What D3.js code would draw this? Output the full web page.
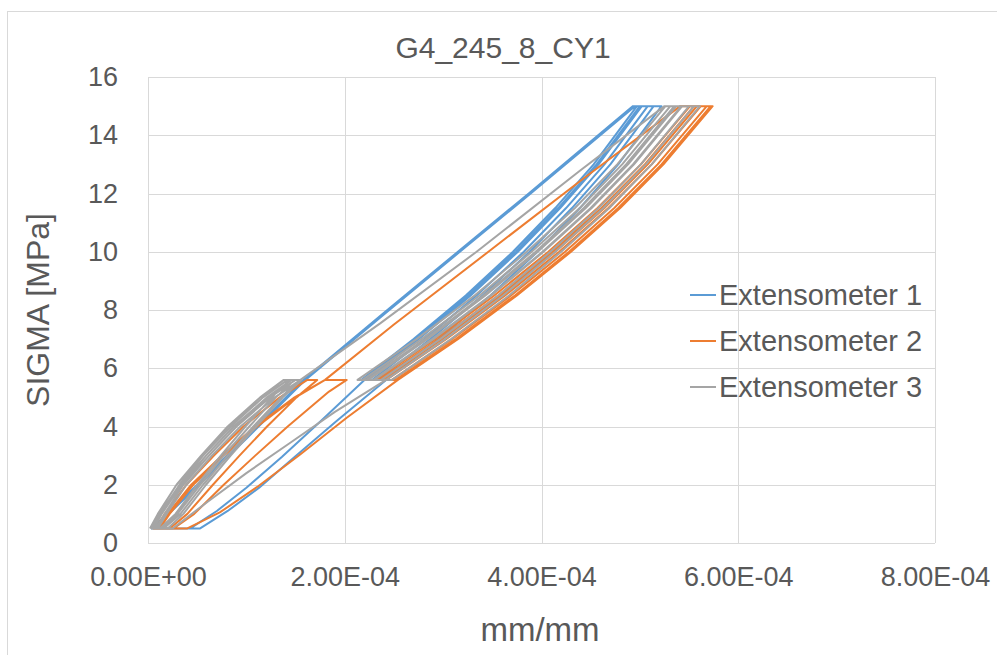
<!DOCTYPE html>
<html>
  <head>
    <meta charset="utf-8">
    <title>G4_245_8_CY1</title>
    <script type="text/javascript" src="https://cdn.jsdelivr.net/npm/d3@7/dist/d3.min.js"></script>
    <style type="text/css">
      body { margin: 0; background: #fff; }
      text { font-family: "Liberation Sans", Arial, sans-serif; fill: #595959; }
      .grid line { stroke: #d9d9d9; stroke-width: 1; shape-rendering: crispEdges; }
      .grid path, .axis path { display: none; }
      .axis line { display: none; }
      .axis text { font-size: 27px; fill: #595959; }
    </style>
  </head>
  <body>
    <script type="text/javascript">
      var w = 997;
      var h = 655;
      var plot = { left: 148, right: 935, top: 77, bottom: 543 };

      // tick values
      var xTicks = [0, 2e-4, 4e-4, 6e-4, 8e-4];
      var yTicks = [0, 2, 4, 6, 8, 10, 12, 14, 16];

      var seriesNames = ["Extensometer 1", "Extensometer 2", "Extensometer 3"];
      var seriesColors = ["#5b9bd5", "#ed7d31", "#a5a5a5"];

      // [strain mm/mm, stress MPa]
      var ext1 = [
        [0.03e-4, 0.5], [0.15e-4, 0.85], [0.50e-4, 2.0], [1.00e-4, 3.65], [1.58e-4, 5.6],
        [2.39e-4, 7.88], [3.15e-4, 10], [3.87e-4, 12], [4.93e-4, 15],
        [5.00e-4, 15], [4.56e-4, 13], [4.17e-4, 11.5], [3.74e-4, 10], [3.26e-4, 8.5], [2.73e-4, 7], [2.20e-4, 5.6],
        [1.76e-4, 4.2], [1.36e-4, 2.95], [1.00e-4, 1.9], [0.70e-4, 1.1], [0.43e-4, 0.5],
        [0.05e-4, 0.5], [0.18e-4, 0.9], [0.52e-4, 2.0], [1.02e-4, 3.65], [1.60e-4, 5.6],
        [2.41e-4, 7.88], [3.17e-4, 10], [3.89e-4, 12], [4.95e-4, 15],
        [5.08e-4, 15], [4.64e-4, 13], [4.25e-4, 11.5], [3.82e-4, 10], [3.34e-4, 8.5], [2.81e-4, 7], [2.28e-4, 5.6],
        [2.17e-4, 5.6], [2.70e-4, 7], [3.23e-4, 8.5], [3.71e-4, 10], [4.14e-4, 11.5], [4.53e-4, 13], [4.97e-4, 15],
        [5.14e-4, 15], [4.70e-4, 13], [4.31e-4, 11.5], [3.88e-4, 10], [3.40e-4, 8.5], [2.87e-4, 7], [2.34e-4, 5.6],
        [2.22e-4, 5.6], [2.75e-4, 7], [3.28e-4, 8.5], [3.76e-4, 10], [4.19e-4, 11.5], [4.58e-4, 13], [5.02e-4, 15],
        [5.22e-4, 15], [4.78e-4, 13], [4.39e-4, 11.5], [3.96e-4, 10], [3.48e-4, 8.5], [2.95e-4, 7], [2.42e-4, 5.6],
        [1.92e-4, 4.2], [1.49e-4, 2.95], [1.13e-4, 1.9], [0.81e-4, 1.1], [0.53e-4, 0.5],
        [0.03e-4, 0.5]
      ];

      var ext2 = [
        [0.08e-4, 0.5], [0.17e-4, 1.0], [0.39e-4, 2.0], [0.67e-4, 3.0], [0.97e-4, 4.0], [1.34e-4, 5.0], [1.62e-4, 5.6],
        [1.72e-4, 5.6], [1.51e-4, 5.0], [1.21e-4, 4.0], [0.93e-4, 3.0], [0.66e-4, 2.0], [0.40e-4, 1.0], [0.22e-4, 0.5],
        [0.10e-4, 0.5], [0.20e-4, 1.0], [0.44e-4, 2.0], [0.75e-4, 3.0], [1.09e-4, 4.0], [1.49e-4, 5.0], [1.80e-4, 5.6],
        [2.02e-4, 5.6], [1.84e-4, 5.2], [1.42e-4, 4.0], [1.09e-4, 3.0], [0.77e-4, 2.0], [0.47e-4, 1.0], [0.26e-4, 0.5],
        [0.12e-4, 0.5], [0.22e-4, 1.0], [0.46e-4, 2.0], [0.77e-4, 3.0], [1.11e-4, 4.0], [1.50e-4, 5.0], [1.80e-4, 5.6],
        [2.50e-4, 7.5], [3.46e-4, 10], [4.42e-4, 12.5], [5.41e-4, 15],
        [5.62e-4, 15], [5.12e-4, 13], [4.68e-4, 11.5], [4.18e-4, 10], [3.63e-4, 8.5], [3.03e-4, 7], [2.42e-4, 5.6],
        [2.31e-4, 5.6], [2.92e-4, 7], [3.52e-4, 8.5], [4.07e-4, 10], [4.57e-4, 11.5], [5.01e-4, 13], [5.51e-4, 15],
        [5.68e-4, 15], [5.18e-4, 13], [4.74e-4, 11.5], [4.24e-4, 10], [3.69e-4, 8.5], [3.09e-4, 7], [2.48e-4, 5.6],
        [2.35e-4, 5.6], [2.96e-4, 7], [3.56e-4, 8.5], [4.11e-4, 10], [4.61e-4, 11.5], [5.05e-4, 13], [5.55e-4, 15],
        [5.72e-4, 15], [5.22e-4, 13], [4.78e-4, 11.5], [4.28e-4, 10], [3.73e-4, 8.5], [3.13e-4, 7], [2.52e-4, 5.6],
        [2.38e-4, 5.6], [2.99e-4, 7], [3.59e-4, 8.5], [4.14e-4, 10], [4.64e-4, 11.5], [5.08e-4, 13], [5.58e-4, 15],
        [5.74e-4, 15], [5.24e-4, 13], [4.80e-4, 11.5], [4.30e-4, 10], [3.75e-4, 8.5], [3.15e-4, 7], [2.54e-4, 5.6],
        [2.02e-4, 4.3], [1.55e-4, 3.05], [1.12e-4, 1.95], [0.73e-4, 1.05], [0.40e-4, 0.5],
        [0.05e-4, 0.5]
      ];

      var ext3 = [
        [0.02e-4, 0.5], [0.10e-4, 1.0], [0.29e-4, 2.0], [0.54e-4, 3.0], [0.81e-4, 4.0], [1.14e-4, 5.0], [1.38e-4, 5.6],
        [1.44e-4, 5.6], [1.26e-4, 5.0], [0.99e-4, 4.0], [0.74e-4, 3.0], [0.50e-4, 2.0], [0.28e-4, 1.0], [0.12e-4, 0.5],
        [0.04e-4, 0.5], [0.12e-4, 1.0], [0.32e-4, 2.0], [0.56e-4, 3.0], [0.84e-4, 4.0], [1.17e-4, 5.0], [1.42e-4, 5.6],
        [1.49e-4, 5.6], [1.30e-4, 5.0], [1.03e-4, 4.0], [0.77e-4, 3.0], [0.53e-4, 2.0], [0.30e-4, 1.0], [0.14e-4, 0.5],
        [0.06e-4, 0.5], [0.14e-4, 1.0], [0.34e-4, 2.0], [0.59e-4, 3.0], [0.87e-4, 4.0], [1.21e-4, 5.0], [1.46e-4, 5.6],
        [1.54e-4, 5.6], [1.35e-4, 5.0], [1.07e-4, 4.0], [0.81e-4, 3.0], [0.56e-4, 2.0], [0.33e-4, 1.0], [0.16e-4, 0.5],
        [0.08e-4, 0.5], [0.17e-4, 1.0], [0.36e-4, 2.0], [0.62e-4, 3.0], [0.90e-4, 4.0], [1.24e-4, 5.0], [1.50e-4, 5.6],
        [1.56e-4, 5.6], [1.37e-4, 5.0], [1.10e-4, 4.0], [0.84e-4, 3.0], [0.59e-4, 2.0], [0.36e-4, 1.0], [0.20e-4, 0.5],
        [0.10e-4, 0.5], [0.19e-4, 1.0], [0.39e-4, 2.0], [0.65e-4, 3.0], [0.94e-4, 4.0], [1.29e-4, 5.0], [1.55e-4, 5.6],
        [2.36e-4, 7.54], [3.34e-4, 10], [4.39e-4, 12.78], [5.25e-4, 15],
        [5.35e-4, 15], [4.86e-4, 13], [4.43e-4, 11.5], [3.94e-4, 10], [3.41e-4, 8.5], [2.82e-4, 7], [2.22e-4, 5.6],
        [2.13e-4, 5.6], [2.73e-4, 7], [3.32e-4, 8.5], [3.85e-4, 10], [4.34e-4, 11.5], [4.77e-4, 13], [5.26e-4, 15],
        [5.42e-4, 15], [4.93e-4, 13], [4.50e-4, 11.5], [4.01e-4, 10], [3.48e-4, 8.5], [2.89e-4, 7], [2.29e-4, 5.6],
        [2.18e-4, 5.6], [2.78e-4, 7], [3.37e-4, 8.5], [3.90e-4, 10], [4.39e-4, 11.5], [4.82e-4, 13], [5.31e-4, 15],
        [5.50e-4, 15], [5.01e-4, 13], [4.58e-4, 11.5], [4.09e-4, 10], [3.56e-4, 8.5], [2.97e-4, 7], [2.37e-4, 5.6],
        [2.24e-4, 5.6], [2.84e-4, 7], [3.43e-4, 8.5], [3.96e-4, 10], [4.45e-4, 11.5], [4.88e-4, 13], [5.37e-4, 15],
        [5.61e-4, 15], [5.12e-4, 13], [4.69e-4, 11.5], [4.20e-4, 10], [3.67e-4, 8.5], [3.08e-4, 7], [2.48e-4, 5.6],
        [2.30e-4, 5.6], [2.90e-4, 7], [3.49e-4, 8.5], [4.02e-4, 10], [4.51e-4, 11.5], [4.94e-4, 13], [5.43e-4, 15],
        [5.55e-4, 15], [5.06e-4, 13], [4.63e-4, 11.5], [4.14e-4, 10], [3.61e-4, 8.5], [3.02e-4, 7], [2.42e-4, 5.6],
        [1.90e-4, 4.5], [1.45e-4, 3.45], [1.00e-4, 2.4], [0.60e-4, 1.4], [0.25e-4, 0.5],
        [0.03e-4, 0.5]
      ];

      var series = [
        { name: seriesNames[0], color: seriesColors[0], points: ext1 },
        { name: seriesNames[1], color: seriesColors[1], points: ext2 },
        { name: seriesNames[2], color: seriesColors[2], points: ext3 }
      ];

      // scales
      var xScale = d3.scaleLinear().domain([0, 8e-4]).range([plot.left, plot.right]);
      var yScale = d3.scaleLinear().domain([0, 16]).range([plot.bottom, plot.top]);

      // 0.00E+00 style labels
      function sciFormat(v) {
        var parts = d3.format(".2e")(v).split("e");
        var exp = parseInt(parts[1], 10);
        var sign = exp < 0 ? "-" : "+";
        return parts[0] + "E" + sign + d3.format("02d")(Math.abs(exp));
      }

      var svg = d3.select("body").append("svg")
                  .attr("width", w)
                  .attr("height", h);

      svg.append("rect")
         .attr("width", w).attr("height", h)
         .attr("fill", "#fff");

      // chart border
      svg.append("rect")
         .attr("x", 7.5).attr("y", 11.5)
         .attr("width", w).attr("height", h)
         .attr("fill", "none")
         .attr("stroke", "#d9d9d9")
         .attr("stroke-width", 1);

      // gridlines
      svg.append("g")
         .attr("class", "grid")
         .attr("transform", "translate(" + plot.left + ",0)")
         .call(d3.axisLeft(yScale).tickValues(yTicks).tickSize(-(plot.right - plot.left)).tickFormat(""));
      svg.append("g")
         .attr("class", "grid")
         .attr("transform", "translate(0," + plot.bottom + ")")
         .call(d3.axisBottom(xScale).tickValues(xTicks).tickSize(-(plot.bottom - plot.top)).tickFormat(""));

      // tick labels
      svg.append("g")
         .attr("class", "axis")
         .attr("transform", "translate(" + plot.left + ",0)")
         .call(d3.axisLeft(yScale).tickValues(yTicks).tickSize(0).tickPadding(30));
      svg.append("g")
         .attr("class", "axis")
         .attr("transform", "translate(0," + plot.bottom + ")")
         .call(d3.axisBottom(xScale).tickValues(xTicks).tickSize(0).tickPadding(24).tickFormat(sciFormat));

      // series lines
      var line = d3.line()
                   .x(function(d) { return xScale(d[0]); })
                   .y(function(d) { return yScale(d[1]); });

      svg.append("g")
         .selectAll("path")
         .data(series)
         .enter()
         .append("path")
         .attr("d", function(s) { return line(s.points); })
         .attr("fill", "none")
         .attr("stroke", function(s) { return s.color; })
         .attr("stroke-width", 2)
         .attr("stroke-linejoin", "round");

      // titles
      svg.append("text")
         .attr("x", 503).attr("y", 58)
         .attr("text-anchor", "middle")
         .attr("font-size", "30px")
         .text("G4_245_8_CY1");

      svg.append("text")
         .attr("x", 540).attr("y", 641)
         .attr("text-anchor", "middle")
         .attr("font-size", "33px")
         .text("mm/mm");

      svg.append("text")
         .attr("transform", "translate(49,310) rotate(-90)")
         .attr("text-anchor", "middle")
         .attr("font-size", "32px")
         .text("SIGMA [MPa]");

      // legend
      var legend = svg.append("g")
                      .selectAll("g")
                      .data(series)
                      .enter()
                      .append("g")
                      .attr("transform", function(d, i) { return "translate(690," + (295 + i * 46) + ")"; });
      legend.append("line")
            .attr("x1", 0).attr("x2", 26)
            .attr("stroke", function(d) { return d.color; })
            .attr("stroke-width", 2);
      legend.append("text")
            .attr("x", 29).attr("dy", "0.35em")
            .attr("font-size", "29px")
            .text(function(d) { return d.name; });
    </script>
  </body>
</html>
